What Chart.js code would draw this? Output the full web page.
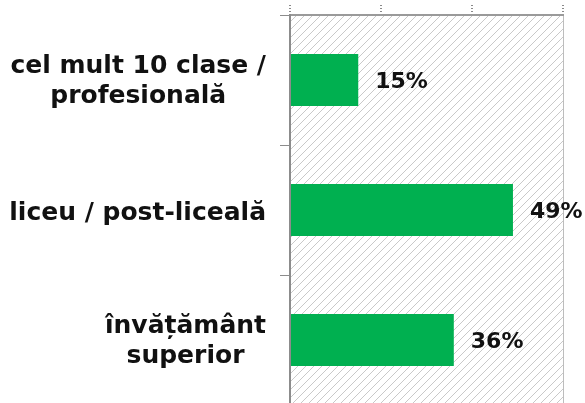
<!DOCTYPE html>
<html>
<head>
<meta charset="utf-8">
<script src="https://cdn.jsdelivr.net/npm/chart.js@4.4.1/dist/chart.umd.min.js"></script>
<style>
  html, body { margin: 0; padding: 0; background: #fff; overflow: hidden; }
  .wrap { width: 585px; height: 403px; overflow: hidden; }
</style>
</head>
<body>
<div class="wrap">
  <canvas id="myChart" width="585" height="405"></canvas>
</div>
<script>
// categories, one entry per line of the label
const categories = [
  ["cel mult 10 clase /", "profesională"],
  ["liceu / post-liceală"],
  ["învățământ", "superior"]
];
const shares = [0.15, 0.49, 0.36];
const xTicks = [0, 0.2, 0.4, 0.6];

const labelFont = "bold 25px 'DejaVu Sans'";
const valueFont = "bold 22px 'DejaVu Sans'";

// light diagonal hatching for the plot area
function hatchPattern(ctx) {
  const tile = document.createElement("canvas");
  tile.width = 8; tile.height = 8;
  const t = tile.getContext("2d");
  t.strokeStyle = "#c9c9c9";
  t.lineWidth = 1;
  t.beginPath();
  t.moveTo(0, 8); t.lineTo(8, 0);
  t.moveTo(-1, 1); t.lineTo(1, -1);
  t.moveTo(7, 9); t.lineTo(9, 7);
  t.stroke();
  return ctx.createPattern(tile, "repeat");
}

const plotBack = {
  id: "plotBack",
  beforeDraw(chart) {
    const {ctx, chartArea: a} = chart;
    ctx.save();
    ctx.fillStyle = hatchPattern(ctx);
    ctx.fillRect(a.left, a.top, a.right - a.left, a.bottom - a.top);
    ctx.strokeStyle = "#bdbdbd";
    ctx.lineWidth = 1;
    ctx.beginPath();
    ctx.moveTo(a.right + 0.5, a.top);
    ctx.lineTo(a.right + 0.5, a.bottom);
    ctx.stroke();
    ctx.restore();
  }
};

// category names left of the axis, lines centred on each other
const catLabels = {
  id: "catLabels",
  afterDraw(chart) {
    const ctx = chart.ctx;
    const y = chart.scales.y;
    const right = 266;
    ctx.save();
    ctx.font = labelFont;
    ctx.fillStyle = "#111";
    ctx.textAlign = "center";
    ctx.textBaseline = "alphabetic";
    categories.forEach((lines, i) => {
      const cy = y.getPixelForValue(i);
      const w = Math.max(...lines.map(l => ctx.measureText(l).width));
      const cx = right - w / 2;
      if (lines.length == 1) {
        ctx.fillText(lines[0], cx, cy + 10);
      } else {
        ctx.fillText(lines[0], cx, cy - 7);
        ctx.fillText(lines[1], cx, cy + 23);
      }
    });
    ctx.restore();
  }
};

// value labels after each bar
const valueLabels = {
  id: "valueLabels",
  afterDatasetsDraw(chart) {
    const ctx = chart.ctx;
    const meta = chart.getDatasetMeta(0);
    ctx.save();
    ctx.font = valueFont;
    ctx.fillStyle = "#111";
    ctx.textAlign = "left";
    ctx.textBaseline = "middle";
    meta.data.forEach((bar, i) => {
      ctx.fillText(Math.round(shares[i] * 100) + "%", bar.x + 17, bar.y + 2);
    });
    ctx.restore();
  }
};

new Chart(document.getElementById("myChart"), {
  type: "bar",
  data: {
    labels: categories.map(l => l.join(" ")),
    datasets: [{
      data: shares,
      backgroundColor: "#00b050",
      borderWidth: 0,
      barPercentage: 0.4,
      categoryPercentage: 1
    }]
  },
  options: {
    indexAxis: "y",
    responsive: false,
    animation: false,
    layout: { padding: { left: 0, right: 22, top: 0, bottom: 0 } },
    plugins: { legend: { display: false }, tooltip: { enabled: false } },
    scales: {
      x: {
        position: "top",
        min: 0,
        max: 0.6,
        afterBuildTicks(scale) { scale.ticks = xTicks.map(v => ({value: v})); },
        ticks: { display: false },
        grid: {
          drawOnChartArea: false,
          tickLength: 10,
          lineWidth: 2,
          color: "#8a8a8a",
          tickBorderDash: [1, 2]
        },
        border: { color: "#9a9a9a", dash: [1, 1], width: 2 },
        afterFit(scale) { scale.height = 15; }
      },
      y: {
        ticks: { display: false },
        grid: {
          offset: true,
          drawOnChartArea: false,
          tickLength: 10,
          color: "#8c8c8c"
        },
        border: { color: "#8c8c8c", width: 2 },
        afterFit(scale) { scale.width = 290; }
      }
    }
  },
  plugins: [plotBack, catLabels, valueLabels]
});
</script>
</body>
</html>
